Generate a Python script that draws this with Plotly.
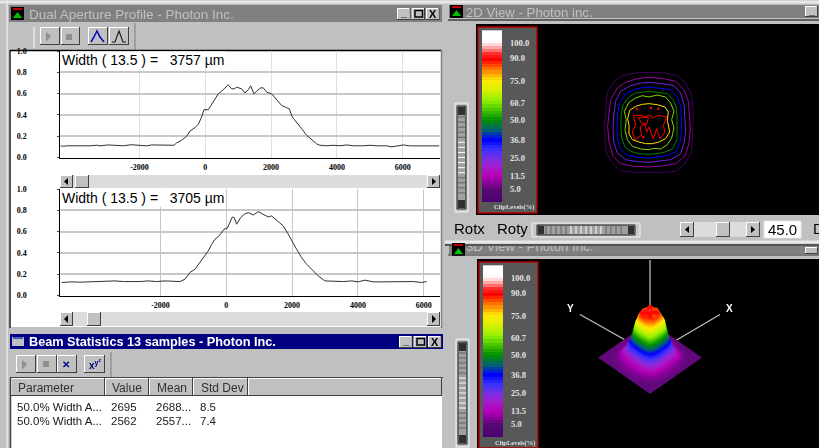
import plotly.graph_objects as go

W, H = 819, 448

# ---------- data ----------
TOP_X = [-4407,-4315,-4214,-4062,-3860,-3708,-3505,-3302,-3201,-2948,-2695,-2492,-2239,-1985,-1783,-1631,-1378,-1175,-952,-871,-719,-567,-466,-314,-213,-111,-41,91,192,294,395,496,598,699,800,881,952,1104,1205,1307,1378,1479,1560,1682,1763,1864,2016,2168,2320,2472,2553,2644,2776,2928,3080,3232,3384,3485,3687,3890,4093,4295,4498,4802,5004,5207,5511,5663,5815,6017,6220,6524,6828,7111]
TOP_Y = [.11,.105,.11,.109,.11,.11,.11,.115,.109,.118,.11,.11,.12,.11,.109,.118,.115,.115,.115,.137,.162,.199,.249,.28,.31,.38,.449,.449,.498,.536,.598,.623,.654,.682,.645,.645,.66,.645,.607,.636,.673,.598,.623,.654,.654,.614,.598,.542,.489,.467,.458,.38,.333,.271,.209,.168,.128,.115,.11,.115,.11,.118,.11,.11,.115,.11,.109,.1,.11,.118,.109,.109,.11,.109]
BOT_X = [-5004,-4852,-4700,-4447,-4143,-3839,-3637,-3383,-3130,-2826,-2624,-2370,-2117,-1864,-1611,-1408,-1256,-1104,-952,-800,-648,-547,-446,-344,-192,-71,30,111,182,243,314,436,547,669,821,972,1124,1276,1378,1530,1732,1854,1986,2137,2289,2441,2593,2796,2998,3252,3556,3809,4012,4214,4467,4771,5075,5379,5683,5936,6088]
BOT_Y = [.122,.125,.128,.125,.128,.128,.131,.137,.131,.128,.131,.137,.131,.137,.131,.131,.153,.216,.247,.309,.372,.419,.481,.528,.569,.622,.631,.684,.737,.731,.669,.731,.763,.778,.756,.788,.763,.737,.747,.706,.653,.591,.513,.434,.356,.294,.247,.184,.137,.134,.131,.137,.128,.144,.128,.128,.131,.128,.131,.122,.131]
X_TICKS = [-2000, 0, 2000, 4000, 6000]
X_LABELS = ["-2000", "0", "2000", "4000", "6000"]
Y_TICKS = [0.0, 0.2, 0.4, 0.6, 0.8, 1.0]
TITLE_TOP = "Width ( 13.5 ) =   3757 µm"
TITLE_BOT = "Width ( 13.5 ) =   3705 µm"

LEVELS = [100.0, 90.0, 75.0, 60.7, 50.0, 36.8, 25.0, 13.5, 5.0]
LEVEL_LABELS = ["100.0", "90.0", "75.0", "60.7", "50.0", "36.8", "25.0", "13.5", "5.0"]
RAMP = [-3,-1,1,3,5,7,9,11,13,15,17,19,21,23,25,27,29,31,33,35,37,39,41,43,45,47,49,51,53,55,57,59,61,63,65,67,69,71,73,75,77,79,81,83,85,87,89,91,93,95,97,99,101,103,105,107]
COLOR_STOPS = [(-3,"#4a0070"),(5,"#580a74"),(10,"#9000a0"),(14,"#b800b8"),(20,"#a020d0"),(26,"#7030e8"),(32,"#3030ff"),(37,"#0000ff"),(43,"#006078"),(50,"#009000"),(56,"#40c000"),(62,"#90f000"),(70,"#e0f000"),(76,"#ffe800"),(83,"#ff7000"),(89,"#ff0000"),(93,"#ff3030"),(96,"#ff9090"),(100,"#fff0f0"),(102,"#ffffff"),(108,"#ffffff")]

# contour rings of the 2D view, offsets from the beam centre
RING_05_X = [0,50,85,110,128,132,132,130,128,105,80,40,0,-40,-85,-110,-128,-132,-133,-130,-125,-105,-80,-40,0]
RING_05_Y = [-152,-150,-142,-120,-85,-40,0,45,90,125,145,148,147,148,143,122,90,45,0,-45,-90,-125,-142,-150,-152]
RING_13_X = [0,45,80,105,118,122,124,120,108,80,45,0,-45,-85,-108,-120,-124,-120,-115,-95,-70,-35,0]
RING_13_Y = [-137,-133,-125,-100,-65,-25,15,60,100,122,128,132,130,122,100,55,10,-30,-70,-105,-122,-133,-137]
RING_25_X = [0,40,75,95,105,108,110,105,95,65,35,0,-35,-70,-95,-106,-108,-105,-100,-85,-55,-25,0]
RING_25_Y = [-122,-118,-112,-90,-55,-15,25,60,92,110,114,118,116,110,90,55,15,-30,-65,-95,-112,-120,-122]
RING_37_X = [0,30,65,85,95,97,98,94,82,55,25,0,-35,-65,-85,-94,-96,-94,-88,-70,-45,-20,0]
RING_37_Y = [-108,-104,-100,-78,-50,-15,20,55,85,98,102,105,103,97,80,50,15,-25,-60,-88,-100,-106,-108]
RING_50_X = [0,25,55,72,82,84,85,84,70,45,20,0,-30,-55,-72,-82,-84,-84,-78,-60,-40,-18,0]
RING_50_Y = [-95,-92,-88,-70,-48,-15,15,50,78,88,92,94,92,85,72,45,15,-20,-55,-78,-90,-92,-95]
RING_61_X = [0,25,50,65,75,68,75,68,55,35,15,0,-25,-50,-65,-72,-68,-74,-60,-40,-20,0]
RING_61_Y = [-78,-84,-78,-60,-35,-10,15,45,65,78,76,80,78,70,50,20,-10,-35,-62,-75,-82,-78]
RING_75_X = [0,25,48,58,55,60,62,50,30,10,-10,-30,-50,-60,-60,-64,-58,-40,-20,0]
RING_75_Y = [-58,-55,-48,-33,-8,12,27,47,57,62,62,57,50,32,7,-13,-38,-50,-56,-58]
RING_90_X = [-47,-22,-12,0,13,28,53,43,48,33,23,13,0,-7,-12,-27,-22,-42,-50,-40,-47]
RING_90_Y = [-23,-23,-18,-23,-16,-23,-18,7,27,47,17,47,12,27,2,12,37,50,27,7,-23]
RING_90B_X = [-32,-22,-7,-2,-16,-32]
RING_90B_Y = [-16,2,4,-16,-18,-16]
DOTS_X = [-37,6,28,-17]
DOTS_Y = [-42,-45,-43,42]

# 3D view surface (percent of peak)
SURF_Z = [
 [6,6,6,6,6,6,6,6,6,6,6,6,6,6,6],
 [6,6,6,6,6,7,7,7,7,7,6,6,6,6,6],
 [6,6,6,7,9,10,11,11,11,10,9,7,6,6,6],
 [6,6,7,12,18,20,22,22,22,20,18,12,7,6,6],
 [6,6,9,14,30,40,44,46,44,40,30,14,9,6,6],
 [6,7,10,18,40,72,82,84,80,70,40,18,10,7,6],
 [6,7,11,19,44,82,92,86,94,84,44,19,11,7,6],
 [6,7,11,20,46,86,84,94,86,88,46,20,11,7,6],
 [6,7,11,19,44,80,92,84,90,82,44,19,11,7,6],
 [6,7,10,18,40,74,84,86,84,72,40,18,10,7,6],
 [6,6,9,14,30,40,44,46,44,40,30,14,9,6,6],
 [6,6,7,12,18,20,22,22,22,20,18,12,7,6,6],
 [6,6,6,7,9,10,11,11,11,10,9,7,6,6,6],
 [6,6,6,6,6,7,7,7,7,7,6,6,6,6,6],
 [6,6,6,6,6,6,6,6,6,6,6,6,6,6,6],
]

STAT_COLS = ["Parameter", "Value", "Mean", "Std Dev"]
STAT_ROW1 = ["50.0% Width A...", "2695", "2688...", "8.5"]
STAT_ROW2 = ["50.0% Width A...", "2562", "2557...", "7.4"]

# ---------- helpers (window furniture in screen pixels) ----------
px = lambda x: x / W
py = lambda y: 1 - y / H
shapes, notes = [], []

def rect(x0, y0, x1, y1, fill, line=None, lw=1, layer="below"):
    shapes.append(dict(type="rect", xref="paper", yref="paper", x0=px(x0), x1=px(x1), y0=py(y0), y1=py(y1),
                       fillcolor=fill, line=dict(color=line or fill, width=lw if line else 0), layer=layer))

def seg(x0, y0, x1, y1, color, lw=1, layer="below"):
    shapes.append(dict(type="line", xref="paper", yref="paper", x0=px(x0), x1=px(x1), y0=py(y0), y1=py(y1),
                       line=dict(color=color, width=lw), layer=layer))

def poly(pts, fill=None, line=None, lw=1):
    d = "M" + " L".join(f"{px(a):.5f},{py(b):.5f}" for a, b in pts) + (" Z" if fill else "")
    shapes.append(dict(type="path", xref="paper", yref="paper", path=d, fillcolor=fill or "rgba(0,0,0,0)",
                       line=dict(color=line or "rgba(0,0,0,0)", width=lw), layer="below"))

def button(x0, y0, x1, y1):
    rect(x0, y0, x1, y1, "#404040")
    rect(x0, y0, x1 - 1, y1 - 1, "#ffffff")
    rect(x0 + 1, y0 + 1, x1 - 1, y1 - 1, "#c0c0c0")

def txt(x, y, s, size=12, color="#000000", font="Liberation Sans", anchor="left", weight=400, bg=None):
    notes.append(dict(xref="paper", yref="paper", x=px(x), y=py(y), text=s, showarrow=False, xanchor=anchor,
                      yanchor="middle", borderpad=0, bgcolor=bg,
                      font=dict(size=size, color=color, family=font, weight=weight)))

def winbuttons(x0, y0, y1):
    for i in range(3):
        a = x0 + i * 14.5
        button(a, y0, a + 13.5, y1)
    txt(x0 + 6.5, y0 + 4, "_", 11, anchor="center", weight=700)
    rect(x0 + 18, y0 + 2.5, x0 + 25.5, y1 - 3, "rgba(0,0,0,0)", "#000000", 1.5)
    txt(x0 + 35.7, (y0 + y1) / 2, "X", 11, anchor="center", weight=700)

def scrollbar(x0, x1, y0, y1, thumb):
    rect(x0, y0, x1, y1, "#dcdcdc")
    button(x0, y0, x0 + 13, y1)
    button(thumb, y0, thumb + 14, y1)
    button(x1 - 13, y0, x1, y1)
    poly([(x0 + 8, y0 + 3), (x0 + 4, (y0 + y1) / 2), (x0 + 8, y1 - 3)], fill="#000000")
    poly([(x1 - 8, y0 + 3), (x1 - 4, (y0 + y1) / 2), (x1 - 8, y1 - 3)], fill="#000000")

def vslider(x0, x1, y0, y1):
    rect(x0, y0, x1, y1, "#c8c8c8", "#f0f0f0", 1)
    rect(x0 + 2, y0 + 3, x1 - 2, y1 - 3, "#a0a0a0", "#202020", 1)
    rect(x0 + 3, y0 + 4, x1 - 3, y0 + 12, "#303030")
    rect(x0 + 3, y1 - 12, x1 - 3, y1 - 4, "#303030")
    n = 16
    for i in range(n):
        yy = y0 + 14 + i * (y1 - y0 - 28) / n
        seg(x0 + 3, yy, x1 - 3, yy, "#ffffff" if 4 < i < 12 else "#606060")

def hslider(x0, x1, y0, y1):
    rect(x0, y0, x1, y1, "#c8c8c8", "#f0f0f0", 1)
    rect(x0 + 5, y0 + 2, x1 - 5, y1 - 2, "#a0a0a0", "#202020", 1)
    rect(x0 + 6, y0 + 3, x0 + 12, y1 - 3, "#303030")
    rect(x1 - 12, y0 + 3, x1 - 6, y1 - 3, "#303030")
    n = 16
    for i in range(n):
        xx = x0 + 14 + i * (x1 - x0 - 28) / n
        seg(xx, y0 + 3, xx, y1 - 3, "#ffffff" if 4 < i < 12 else "#606060")

def icon(x, y, color="#00c000"):
    rect(x, y, x + 13, y + 13, "#000000")
    poly([(x + 2, y + 11), (x + 6.5, y + 5), (x + 11, y + 11)], fill=color)
    rect(x + 2, y + 1, x + 11, y + 3, "#c00000")

# ---------- left windows ----------
seg(0, 2, 819, 2, "#e8e8e8", 3)
seg(7, 0, 7, 448, "#e8e8e8", 1.5)
rect(9, 5, 442, 22, "#808080")
icon(11, 7)
txt(28, 14.5, "Dual Aperture Profile - Photon Inc.", 13.5, "#c0c0c0")
winbuttons(397, 8, 20)
seg(34, 27, 34, 48, "#ffffff"); seg(135, 23, 135, 50, "#808080")
button(40, 27, 60, 45); button(61, 27, 80, 45); button(88, 27, 108, 45); button(109, 27, 129, 45)
poly([(46, 32), (51, 36), (46, 42)], fill="#909090")
rect(66, 34, 72, 40, "#909090")
poly([(91, 42), (94, 37), (97, 31), (100, 37), (104, 42)], line="#0000c0", lw=1.5)
poly([(112, 42), (115, 42), (119, 31), (123, 42), (126, 42)], line="#202020", lw=1.2)

rect(11, 51, 441, 327, "#ffffff")
seg(10, 50, 10, 328, "#303030", 1.5)
seg(10, 50.5, 441, 50.5, "#000000", 1.5)
seg(441.5, 50, 441.5, 328, "#808080", 1.5)
scrollbar(60, 440, 175, 188, 75)
scrollbar(60, 440, 312, 326, 87)

# statistics window
rect(9, 331, 444, 448, "#c0c0c0")
rect(10, 334, 443, 349, "#000080")
rect(12, 337, 24, 346, "#c0c0c0"); rect(13, 337, 23, 339, "#4060c0")
txt(28, 341.5, "Beam Statistics 13 samples - Photon Inc.", 12.7, "#ffffff", weight=700)
winbuttons(399, 336, 348)
button(16, 355, 36, 373); button(37, 355, 57, 373); button(57, 355, 77, 373); button(84, 355, 105, 373)
poly([(22, 360), (27, 364), (22, 370)], fill="#909090")
rect(43, 361, 49, 367, "#909090")
txt(66, 364.5, "✕", 10, "#000080", anchor="center", weight=700)
txt(95, 364, "x<sup>y<sup>z</sup></sup>", 10, "#000080", anchor="center", weight=700)
seg(111, 352, 111, 377, "#808080")
seg(10, 377.5, 443, 377.5, "#404040", 1)
col_x = [11, 105, 149, 193, 248]
for a, b in zip(col_x, col_x[1:] + [442]):
    button(a, 378, b, 396)
rect(11, 396, 442, 448, "#ffffff")
seg(10.5, 378, 10.5, 448, "#404040", 1.5)
text_x = [16, 110, 155, 199]
for col, lab, r1, r2 in zip(text_x, STAT_COLS, STAT_ROW1, STAT_ROW2):
    txt(col + 1, 388, lab, 12, "#303030")
    txt(col, 406.5, r1, 11.5, "#202020")
    txt(col, 421, r2, 11.5, "#202020")

# ---------- right windows ----------
rect(449, 5, 819, 18, "#808080")
icon(450, 5)
txt(465, 12, "2D View - Photon inc.", 13.2, "#c0c0c0")
button(805, 6, 818, 17); txt(811.5, 10, "_", 11, anchor="center", weight=700)
seg(448, 20, 819, 20, "#404040", 1.5)
rect(476, 24, 819, 215, "#000000")
vslider(455, 468, 103, 212)
rect(478, 27, 537, 213, "#585858", "#b00000", 1.5)
hslider(532, 640, 223, 237)
txt(453, 228, "Rotx", 15); txt(496, 228, "Roty", 15)
rect(680, 222, 760, 237, "#dcdcdc")
button(680, 222, 694, 237); button(716, 222, 730, 237); button(746, 222, 760, 237)
poly([(689, 226), (685, 229.5), (689, 233)], fill="#000000")
poly([(751, 226), (755, 229.5), (751, 233)], fill="#000000")
rect(764, 221, 801, 238, "#ffffff", "#e8e8e8", 1)
txt(782, 230, "45.0", 15, anchor="center")
txt(812, 228, "D", 15)

seg(445, 242, 819, 242, "#e8e8e8", 3)
seg(445, 245, 819, 245, "#303030", 1.5)
rect(449, 246, 819, 254, "#808080")
icon(452, 243)
button(805, 247, 818, 254)
seg(448, 255, 819, 255, "#303030", 1)
rect(477, 259, 819, 448, "#000000")
vslider(456, 469, 339, 447)
rect(479, 262, 538, 448, "#585858", "#b00000", 1.5)

# 3D frame lines behind the surface
seg(650, 260, 650, 312, "#a0a0a0", 1.5)
seg(580, 314.5, 627, 341, "#c0c0c0", 1.2)
seg(720, 314.5, 675, 341, "#c0c0c0", 1.2)
txt(570, 308, "Y", 10, "#ffffff", anchor="center", weight=700)
txt(729, 308, "X", 10, "#ffffff", anchor="center", weight=700)

txt(514, 207.5, "ClipLevels(%)", 6.5, "#e0e0e0", "Liberation Serif", "center", 700)
txt(515, 442.5, "ClipLevels(%)", 6.5, "#e0e0e0", "Liberation Serif", "center", 700)

# white plates behind the width read-outs
txt(60.5, 60.5, TITLE_TOP, 14, bg="#ffffff")
txt(60.5, 197.5, TITLE_BOT, 14, bg="#ffffff")

# ---------- traces ----------
vmin, vmax = -3, 108
cscale = [[(v - vmin) / (vmax - vmin), c] for v, c in COLOR_STOPS]

fig = go.Figure()
fig.add_trace(go.Scatter(x=TOP_X, y=TOP_Y, mode="lines", line=dict(color="#303030", width=1), xaxis="x", yaxis="y"))
fig.add_trace(go.Scatter(x=BOT_X, y=BOT_Y, mode="lines", line=dict(color="#303030", width=1), xaxis="x2", yaxis="y2"))

ramp_z = [[v] for v in RAMP]
fig.add_trace(go.Heatmap(z=ramp_z, y=RAMP, x=[0], zmin=vmin, zmax=vmax, colorscale=cscale, showscale=False, xaxis="x3", yaxis="y3"))
fig.add_trace(go.Heatmap(z=ramp_z, y=RAMP, x=[0], zmin=vmin, zmax=vmax, colorscale=cscale, showscale=False, xaxis="x5", yaxis="y5"))

rings = [(RING_05_X, RING_05_Y, "#40005c"), (RING_13_X, RING_13_Y, "#a000a8"), (RING_25_X, RING_25_Y, "#7020e0"),
         (RING_37_X, RING_37_Y, "#0000ff"), (RING_50_X, RING_50_Y, "#008000"), (RING_61_X, RING_61_Y, "#80d800"),
         (RING_75_X, RING_75_Y, "#ffe000"), (RING_90_X, RING_90_Y, "#ff0000"), (RING_90B_X, RING_90B_Y, "#ff0000")]
for rx, ry, c in rings:
    fig.add_trace(go.Scatter(x=rx, y=ry, mode="lines", line=dict(color=c, width=1), xaxis="x4", yaxis="y4"))
fig.add_trace(go.Scatter(x=DOTS_X, y=DOTS_Y, mode="markers", marker=dict(color="#ff0000", size=2.5), xaxis="x4", yaxis="y4"))

# title of the 3D window, cut by the window above it
fig.add_trace(go.Scatter(x=[0], y=[0], mode="text", text=["3D View - Photon Inc."], textposition="middle right",
                         textfont=dict(size=13.2, color="#c0c0c0", family="Liberation Sans"), cliponaxis=True,
                         xaxis="x6", yaxis="y6"))

fig.add_trace(go.Surface(z=SURF_Z, colorscale=cscale, cmin=vmin, cmax=vmax, showscale=False,
                         lighting=dict(ambient=1, diffuse=0, specular=0, roughness=1, fresnel=0), scene="scene"))

def dom(a, b, n):
    return [a / n, b / n]

tick_font = dict(size=8, family="Liberation Serif", color="#000000", weight=700)
grid_x = dict(showgrid=True, gridwidth=1, tickvals=X_TICKS, ticktext=X_LABELS, ticks="", showline=True, linecolor="#000000", linewidth=1,
              tickfont=tick_font, ticklabelstandoff=2, zeroline=False, fixedrange=True)
grid_y = dict(showgrid=True, gridcolor="#c8c8c8", gridwidth=1.5, tickvals=Y_TICKS, tickformat=".1f", ticks="outside", ticklen=2,
              showline=True, linecolor="#000000", linewidth=1, tickfont=tick_font, ticklabelstandoff=29, zeroline=False, fixedrange=True)
hidden = dict(visible=False, fixedrange=True)
level_axis = dict(tickvals=LEVELS, ticktext=LEVEL_LABELS, side="right", ticks="", showgrid=False, zeroline=False, showline=False,
                  range=[-3.2, 108.2], ticklabelstandoff=7, fixedrange=True,
                  tickfont=dict(size=8.5, family="Liberation Serif", color="#e4e4e4", weight=700))

fig.update_layout(
    width=W, height=H, margin=dict(l=0, r=0, t=0, b=0, autoexpand=False), autosize=False, showlegend=False,
    paper_bgcolor="#c0c0c0", plot_bgcolor="rgba(0,0,0,0)", shapes=shapes, annotations=notes,
    xaxis=dict(grid_x, domain=dom(60.3, 440, W), range=[-4407, 7134], gridcolor="#e0e0e0", anchor="y"),
    yaxis=dict(grid_y, domain=[1 - 157.5 / H, 1 - 51 / H], range=[0, 1], anchor="x"),
    xaxis2=dict(grid_x, domain=dom(60.3, 440, W), range=[-5046, 6496], gridcolor="#c8c8c8", anchor="y2"),
    yaxis2=dict(grid_y, domain=[1 - 295.5 / H, 1 - 189 / H], range=[0, 1], anchor="x2"),
    xaxis3=dict(hidden, domain=dom(482, 502, W), range=[-0.5, 0.5], anchor="y3"),
    yaxis3=dict(level_axis, domain=[1 - 202 / H, 1 - 30 / H], anchor="x3"),
    xaxis5=dict(hidden, domain=dom(483, 503, W), range=[-0.5, 0.5], anchor="y5"),
    yaxis5=dict(level_axis, domain=[1 - 437 / H, 1 - 265 / H], anchor="x5"),
    xaxis4=dict(hidden, domain=dom(540, 760, W), range=[-327, 333], anchor="y4"),
    yaxis4=dict(hidden, domain=[1 - 212 / H, 1 - 30 / H], range=[267, -279], anchor="x4"),
    xaxis6=dict(hidden, domain=dom(466, 640, W), range=[0, 1], anchor="y6"),
    yaxis6=dict(hidden, domain=[1 - 254 / H, 1 - 246 / H], range=[-0.85, 0.15], anchor="x6"),
    scene=dict(
        domain=dict(x=dom(540, 760, W), y=[1 - 439 / H, 1 - 283 / H]),
        xaxis=dict(visible=False), yaxis=dict(visible=False), zaxis=dict(visible=False, range=[0, 100]),
        bgcolor="rgba(0,0,0,0)", aspectmode="manual", aspectratio=dict(x=1, y=1, z=1.0),
        camera=dict(eye=dict(x=1.38, y=1.38, z=1.4), up=dict(x=0, y=0, z=1), center=dict(x=0, y=0, z=-0.5),
                    projection=dict(type="orthographic")),
    ),
)

fig.write_html("out.html", config=dict(displayModeBar=False, responsive=False),
               post_script="document.body.style.margin='0';document.body.style.overflow='hidden';")
